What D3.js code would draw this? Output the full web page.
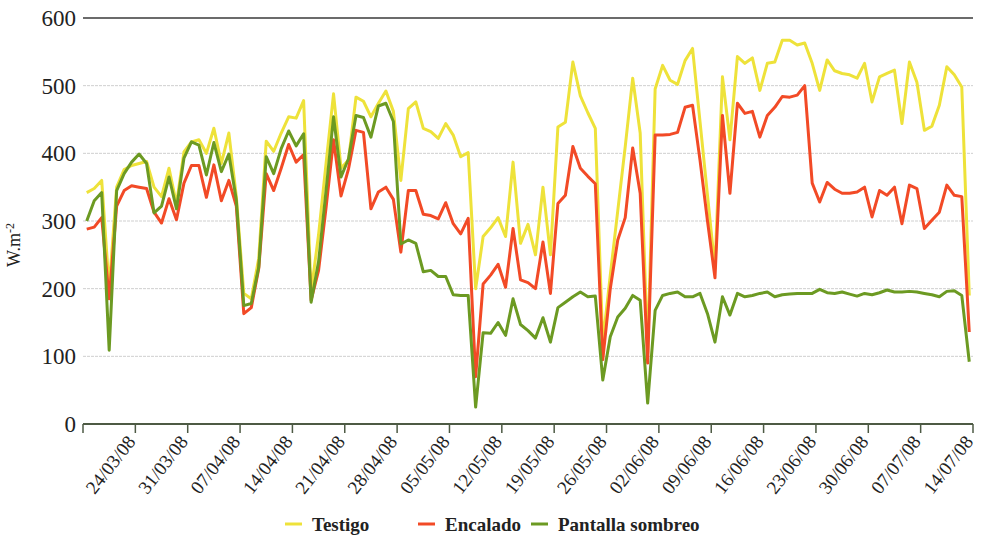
<!DOCTYPE html>
<html>
<head>
<meta charset="utf-8">
<script src="https://cdn.jsdelivr.net/npm/d3@7"></script>
<style>
  body { margin: 0; background: #fff; }
  svg text { font-family: "Liberation Serif", "Times New Roman", "DejaVu Serif", serif; }
</style>
</head>
<body>
<svg id="chart" width="981" height="541"></svg>
<script>
// daily series, 24/03/08 .. 20/07/08
const startDate = new Date(2008, 2, 24);

const testigo = [
  342, 348, 360, 200, 350, 376, 382, 385, 388, 350, 336, 378, 325, 402, 417, 420, 400, 437, 385, 430,
  336, 193, 185, 245, 418, 403, 430, 454, 452, 478, 195, 280, 385, 488, 378, 390, 483, 477, 454, 474,
  492, 462, 360, 466, 476, 437, 432, 422, 444, 427, 395, 401, 200, 277, 290, 305, 277, 387, 267, 295,
  250, 350, 250, 439, 446, 535, 485, 460, 437, 120, 220, 315, 410, 511, 430, 105, 495, 530, 508, 502,
  537, 555, 447, 338, 230, 513, 420, 543, 533, 541, 493, 533, 535, 567, 567, 560, 563, 533, 493, 538,
  522, 518, 516, 511, 533, 476, 513, 518, 523, 444, 535, 505, 434, 440, 471, 528, 516, 498, 190
];

const encalado = [
  288, 291, 305, 185, 322, 345, 352, 350, 348, 313, 297, 333, 302, 356, 382, 382, 335, 383, 330, 360,
  322, 163, 172, 230, 370, 345, 378, 413, 387, 398, 183, 227, 320, 420, 337, 377, 434, 431, 318, 343,
  350, 332, 254, 345, 345, 310, 308, 303, 327, 296, 281, 304, 70, 207, 220, 236, 202, 289, 213, 209,
  200, 269, 193, 326, 338, 410, 378, 366, 355, 95, 200, 272, 305, 408, 341, 90, 427, 427, 428, 431,
  468, 471, 390, 300, 216, 456, 341, 474, 459, 462, 424, 456, 468, 484, 483, 486, 500, 356, 328, 357,
  347, 341, 341, 343, 350, 306, 345, 338, 350, 296, 353, 348, 289, 301, 313, 353, 338, 336, 136
];

const pantalla = [
  300, 330, 342, 109, 345, 370, 387, 399, 385, 312, 322, 365, 318, 393, 417, 412, 368, 416, 373, 399,
  331, 175, 178, 232, 395, 370, 407, 433, 411, 429, 180, 240, 345, 454, 365, 392, 456, 453, 424, 470,
  474, 447, 266, 272, 267, 225, 227, 218, 218, 191, 190, 190, 25, 135, 134, 150, 131, 185, 147, 138,
  127, 157, 121, 172, 180, 188, 195, 188, 189, 65, 129, 158, 171, 190, 183, 31, 168, 190, 193, 195,
  188, 188, 193, 163, 121, 188, 161, 193, 188, 190, 193, 195, 188, 191, 192, 193, 193, 193, 199, 194,
  193, 195, 192, 189, 193, 191, 194, 198, 195, 195, 196, 195, 193, 191, 188, 196, 197, 190, 92
];

const weekLabels = ["24/03/08", "31/03/08", "07/04/08", "14/04/08", "21/04/08", "28/04/08", "05/05/08",
  "12/05/08", "19/05/08", "26/05/08", "02/06/08", "09/06/08", "16/06/08", "23/06/08", "30/06/08",
  "07/07/08", "14/07/08"];

const yTicks = [0, 100, 200, 300, 400, 500, 600];

const seriesNames = ["Testigo", "Encalado", "Pantalla sombreo"];
const seriesColors = ["#eee23a", "#f24a26", "#6c9a22"];

const serif = "'Liberation Serif', 'Times New Roman', 'DejaVu Serif', serif";

const svg = d3.select("#chart");
const plotLeft = 83, plotRight = 973, plotTop = 18, plotBottom = 424;

const endDate = d3.timeDay.offset(startDate, weekLabels.length * 7);
const x = d3.scaleTime().domain([startDate, endDate]).range([plotLeft, plotRight]);
const y = d3.scaleLinear().domain([0, 600]).range([plotBottom, plotTop]);

const dayPos = i => x(d3.timeHour.offset(d3.timeDay.offset(startDate, i), 12));

// gridlines
svg.append("g")
  .selectAll("line")
  .data(yTicks.filter(v => v > 0 && v < 600))
  .join("line")
  .attr("x1", plotLeft).attr("x2", plotRight)
  .attr("y1", d => y(d)).attr("y2", d => y(d))
  .attr("stroke", "#cfcfcf")
  .attr("stroke-width", 1)
  .attr("stroke-dasharray", "3,1");

svg.append("line")
  .attr("x1", plotLeft).attr("x2", plotRight)
  .attr("y1", y(600)).attr("y2", y(600))
  .attr("stroke", "#3a3a3a")
  .attr("stroke-width", 1.6);

// y labels
svg.append("g")
  .selectAll("text")
  .data(yTicks)
  .join("text")
  .attr("x", 76)
  .attr("y", d => y(d))
  .attr("dy", "0.35em")
  .attr("text-anchor", "end")
  .attr("font-family", serif)
  .attr("font-size", 23)
  .attr("fill", "#222")
  .text(d => d);

const yTitle = svg.append("text")
  .attr("transform", "translate(20,245) rotate(-90)")
  .attr("text-anchor", "middle")
  .attr("font-family", serif)
  .attr("font-size", 18)
  .attr("fill", "#222");
yTitle.append("tspan").text("W.m");
yTitle.append("tspan").attr("font-size", 12).attr("dy", -6).text("-2");

// lines
const series = [testigo, encalado, pantalla];
const line = d3.line().x((d, i) => dayPos(i)).y(d => y(d));

svg.append("g")
  .selectAll("path")
  .data(series)
  .join("path")
  .attr("d", d => line(d))
  .attr("fill", "none")
  .attr("stroke", (d, i) => seriesColors[i])
  .attr("stroke-width", 3)
  .attr("stroke-linejoin", "round");

// x axis
const mondays = d3.range(weekLabels.length + 1).map(k => d3.timeDay.offset(startDate, k * 7));
const xAxis = svg.append("g").attr("transform", `translate(0,${plotBottom})`);
xAxis.append("line")
  .attr("x1", plotLeft).attr("x2", plotRight)
  .attr("stroke", "#4d5a44").attr("stroke-width", 2);
xAxis.selectAll(".tick")
  .data(mondays)
  .join("line")
  .attr("class", "tick")
  .attr("x1", d => x(d)).attr("x2", d => x(d))
  .attr("y1", 0).attr("y2", 9)
  .attr("stroke", "#4d5a44").attr("stroke-width", 1.5);

xAxis.selectAll("text")
  .data(weekLabels)
  .join("text")
  .attr("transform", (d, k) => {
    const cx = x(d3.timeHour.offset(mondays[k], 84)) + 22;
    return `translate(${cx},14) rotate(-52)`;
  })
  .attr("text-anchor", "end")
  .attr("dy", "0.35em")
  .attr("font-family", serif)
  .attr("font-size", 19)
  .attr("fill", "#222")
  .text(d => d);

// legend
const legendX = [285, 418, 531];
const legend = svg.append("g").attr("transform", "translate(0,524)");
const item = legend.selectAll("g")
  .data(seriesNames)
  .join("g")
  .attr("transform", (d, i) => `translate(${legendX[i]},0)`);
item.append("line")
  .attr("x1", 0).attr("x2", 17)
  .attr("stroke", (d, i) => seriesColors[i])
  .attr("stroke-width", 3);
item.append("text")
  .attr("x", 27)
  .attr("dy", "0.35em")
  .attr("font-family", serif)
  .attr("font-size", 19)
  .attr("font-weight", "bold")
  .attr("fill", "#222")
  .text(d => d);
</script>
</body>
</html>
